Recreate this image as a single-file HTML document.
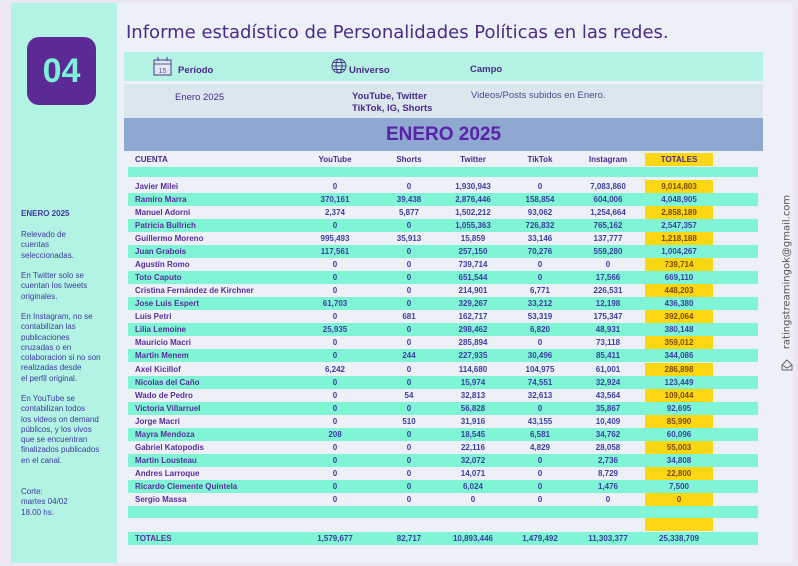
<!DOCTYPE html>
<html><head><meta charset="utf-8"><style>
*{margin:0;padding:0;box-sizing:border-box}
body{width:798px;height:566px;background:#ebe8f3;font-family:"Liberation Sans",sans-serif;position:relative;overflow:hidden}
.abs{position:absolute}
#side{left:11px;top:3px;width:106px;height:560px;background:#b3f3e4}
#card{left:117px;top:3px;width:676px;height:560px;background:#eef0f7}
#badge{left:27px;top:37px;width:69px;height:68px;background:#5b2a94;border-radius:12px;color:#7ff0d8;font-weight:bold;font-size:34px;text-align:center;line-height:68px}
#side .t{position:absolute;left:10px;font-size:8px;color:#3d3aa0;line-height:10.3px}
#title{left:126px;top:22px;font-family:"DejaVu Sans",sans-serif;font-size:18px;color:#4b2a8a;white-space:nowrap}
.band1{left:124px;top:52px;width:639px;height:29px;background:#b4f3e4}
.band2{left:124px;top:84px;width:639px;height:34px;background:#dbe6ee}
.band3{left:124px;top:118px;width:639px;height:33px;background:#8ea8d2;color:#5a22a8;font-weight:bold;font-size:19px;text-align:center;line-height:34px}
.lbl{font-size:9.5px;font-weight:bold;color:#4a2a8a}
.row{position:absolute;left:128px;width:630px;height:13px;font-size:8px;font-weight:bold;line-height:13px;color:#3a3fa0}
.row.m{background:#7ff5d6}
.row span{position:absolute;width:68px;text-align:center;top:0}
.row .n{left:7px;width:200px;text-align:left;color:#5a2d9c}
.c1{left:173px}.c2{left:247px}.c3{left:311px}.c4{left:378px}.c5{left:446px}
.row .c6{left:517px;color:#3a3fa0}
.row.y .c6{background:#fbd711;color:#7a4a10}
#hdr{top:153px;background:none}
#hdr span{color:#4a2a8a}
</style></head><body>
<div id="side" class="abs">
<div class="t" style="top:206px;font-weight:bold">ENERO 2025</div>
<div class="t" style="top:227px">Relevado de<br>cuentas<br>seleccionadas.</div>
<div class="t" style="top:268px">En Twitter solo se<br>cuentan los tweets<br>originales.</div>
<div class="t" style="top:309px">En Instagram, no se<br>contabilizan las<br>publicaciones<br>cruzadas o en<br>colaboracion si no son<br>realizadas desde<br>el perfil original.</div>
<div class="t" style="top:391px">En YouTube se<br>contabilizan todos<br>los videos on demand<br>públicos, y los vivos<br>que se encuentran<br>finalizados publicados<br>en el canal.</div>
<div class="t" style="top:484px">Corte:<br>martes 04/02<br>18.00 hs.</div>
</div>
<div id="card" class="abs"></div>
<div id="badge" class="abs">04</div>
<div id="title" class="abs">Informe estadístico de Personalidades Políticas en las redes.</div>
<div class="abs band1"></div>
<div class="abs band2"></div>
<div class="abs band3">ENERO 2025</div>
<svg class="abs" style="left:153px;top:57px" width="20" height="19" viewBox="0 0 20 19"><rect x="1" y="3" width="17" height="15" fill="#dfe8f0" stroke="#5a5a9a" stroke-width="1.2"/><line x1="1" y1="7" x2="18" y2="7" stroke="#5a5a9a"/><line x1="5" y1="0" x2="5" y2="4" stroke="#5a5a9a" stroke-width="1.3"/><line x1="14" y1="0" x2="14" y2="4" stroke="#5a5a9a" stroke-width="1.3"/><text x="9.5" y="16" font-size="7" text-anchor="middle" fill="#5a5a9a" font-family="Liberation Sans">15</text></svg>
<div class="abs lbl" style="left:178px;top:65px">Período</div>
<svg class="abs" style="left:331px;top:58px" width="16" height="16" viewBox="0 0 16 16" fill="none" stroke="#4a3a8a" stroke-width="1"><circle cx="8" cy="8" r="7"/><ellipse cx="8" cy="8" rx="3" ry="7"/><line x1="1" y1="8" x2="15" y2="8"/><line x1="2" y1="4.5" x2="14" y2="4.5"/><line x1="2" y1="11.5" x2="14" y2="11.5"/></svg>
<div class="abs lbl" style="left:349px;top:65px">Universo</div>
<div class="abs lbl" style="left:470px;top:64px">Campo</div>
<div class="abs" style="left:175px;top:92px;font-size:9.5px;color:#4a2a8a">Enero 2025</div>
<div class="abs lbl" style="left:352px;top:91px;line-height:12px">YouTube, Twitter<br>TikTok, IG, Shorts</div>
<div class="abs" style="left:471px;top:90px;font-size:9.5px;color:#4a4a8a">Videos/Posts subidos en Enero.</div>

<div class="row y" id="hdr"><span class="n">CUENTA</span><span class="c1">YouTube</span><span class="c2">Shorts</span><span class="c3">Twitter</span><span class="c4">TikTok</span><span class="c5">Instagram</span><span class="c6" style="color:#4a2a8a">TOTALES</span></div>
<div class="row m" style="top:167px;height:10px"></div>

<div class="row y" style="top:180px"><span class="n">Javier Milei</span><span class="c1">0</span><span class="c2">0</span><span class="c3">1,930,943</span><span class="c4">0</span><span class="c5">7,083,860</span><span class="c6">9,014,803</span></div>
<div class="row m" style="top:193px"><span class="n">Ramiro Marra</span><span class="c1">370,161</span><span class="c2">39,438</span><span class="c3">2,876,446</span><span class="c4">158,854</span><span class="c5">604,006</span><span class="c6">4,048,905</span></div>
<div class="row y" style="top:206px"><span class="n">Manuel Adorni</span><span class="c1">2,374</span><span class="c2">5,877</span><span class="c3">1,502,212</span><span class="c4">93,062</span><span class="c5">1,254,664</span><span class="c6">2,858,189</span></div>
<div class="row m" style="top:219px"><span class="n">Patricia Bullrich</span><span class="c1">0</span><span class="c2">0</span><span class="c3">1,055,363</span><span class="c4">726,832</span><span class="c5">765,162</span><span class="c6">2,547,357</span></div>
<div class="row y" style="top:232px"><span class="n">Guillermo Moreno</span><span class="c1">995,493</span><span class="c2">35,913</span><span class="c3">15,859</span><span class="c4">33,146</span><span class="c5">137,777</span><span class="c6">1,218,188</span></div>
<div class="row m" style="top:245px"><span class="n">Juan Grabois</span><span class="c1">117,561</span><span class="c2">0</span><span class="c3">257,150</span><span class="c4">70,276</span><span class="c5">559,280</span><span class="c6">1,004,267</span></div>
<div class="row y" style="top:258px"><span class="n">Agustín Romo</span><span class="c1">0</span><span class="c2">0</span><span class="c3">739,714</span><span class="c4">0</span><span class="c5">0</span><span class="c6">739,714</span></div>
<div class="row m" style="top:271px"><span class="n">Toto Caputo</span><span class="c1">0</span><span class="c2">0</span><span class="c3">651,544</span><span class="c4">0</span><span class="c5">17,566</span><span class="c6">669,110</span></div>
<div class="row y" style="top:284px"><span class="n">Cristina Fernández de Kirchner</span><span class="c1">0</span><span class="c2">0</span><span class="c3">214,901</span><span class="c4">6,771</span><span class="c5">226,531</span><span class="c6">448,203</span></div>
<div class="row m" style="top:297px"><span class="n">Jose Luis Espert</span><span class="c1">61,703</span><span class="c2">0</span><span class="c3">329,267</span><span class="c4">33,212</span><span class="c5">12,198</span><span class="c6">436,380</span></div>
<div class="row y" style="top:310px"><span class="n">Luis Petri</span><span class="c1">0</span><span class="c2">681</span><span class="c3">162,717</span><span class="c4">53,319</span><span class="c5">175,347</span><span class="c6">392,064</span></div>
<div class="row m" style="top:323px"><span class="n">Lilia Lemoine</span><span class="c1">25,935</span><span class="c2">0</span><span class="c3">298,462</span><span class="c4">6,820</span><span class="c5">48,931</span><span class="c6">380,148</span></div>
<div class="row y" style="top:336px"><span class="n">Mauricio Macri</span><span class="c1">0</span><span class="c2">0</span><span class="c3">285,894</span><span class="c4">0</span><span class="c5">73,118</span><span class="c6">359,012</span></div>
<div class="row m" style="top:349px"><span class="n">Martin Menem</span><span class="c1">0</span><span class="c2">244</span><span class="c3">227,935</span><span class="c4">30,496</span><span class="c5">85,411</span><span class="c6">344,086</span></div>
<div class="row y" style="top:363px"><span class="n">Axel Kicillof</span><span class="c1">6,242</span><span class="c2">0</span><span class="c3">114,680</span><span class="c4">104,975</span><span class="c5">61,001</span><span class="c6">286,898</span></div>
<div class="row m" style="top:376px"><span class="n">Nicolas del Caño</span><span class="c1">0</span><span class="c2">0</span><span class="c3">15,974</span><span class="c4">74,551</span><span class="c5">32,924</span><span class="c6">123,449</span></div>
<div class="row y" style="top:389px"><span class="n">Wado de Pedro</span><span class="c1">0</span><span class="c2">54</span><span class="c3">32,813</span><span class="c4">32,613</span><span class="c5">43,564</span><span class="c6">109,044</span></div>
<div class="row m" style="top:402px"><span class="n">Victoria Villarruel</span><span class="c1">0</span><span class="c2">0</span><span class="c3">56,828</span><span class="c4">0</span><span class="c5">35,867</span><span class="c6">92,695</span></div>
<div class="row y" style="top:415px"><span class="n">Jorge Macri</span><span class="c1">0</span><span class="c2">510</span><span class="c3">31,916</span><span class="c4">43,155</span><span class="c5">10,409</span><span class="c6">85,990</span></div>
<div class="row m" style="top:428px"><span class="n">Mayra Mendoza</span><span class="c1">208</span><span class="c2">0</span><span class="c3">18,545</span><span class="c4">6,581</span><span class="c5">34,762</span><span class="c6">60,096</span></div>
<div class="row y" style="top:441px"><span class="n">Gabriel Katopodis</span><span class="c1">0</span><span class="c2">0</span><span class="c3">22,116</span><span class="c4">4,829</span><span class="c5">28,058</span><span class="c6">55,003</span></div>
<div class="row m" style="top:454px"><span class="n">Martin Lousteau</span><span class="c1">0</span><span class="c2">0</span><span class="c3">32,072</span><span class="c4">0</span><span class="c5">2,736</span><span class="c6">34,808</span></div>
<div class="row y" style="top:467px"><span class="n">Andres Larroque</span><span class="c1">0</span><span class="c2">0</span><span class="c3">14,071</span><span class="c4">0</span><span class="c5">8,729</span><span class="c6">22,800</span></div>
<div class="row m" style="top:480px"><span class="n">Ricardo Clemente Quintela</span><span class="c1">0</span><span class="c2">0</span><span class="c3">6,024</span><span class="c4">0</span><span class="c5">1,476</span><span class="c6">7,500</span></div>
<div class="row y" style="top:493px"><span class="n">Sergio Massa</span><span class="c1">0</span><span class="c2">0</span><span class="c3">0</span><span class="c4">0</span><span class="c5">0</span><span class="c6">0</span></div>
<div class="row m" style="top:506px;height:12px"></div>
<div class="row y" style="top:518px"><span class="c6">&nbsp;</span></div>
<div class="row m" style="top:532px"><span class="n">TOTALES</span><span class="c1">1,579,677</span><span class="c2">82,717</span><span class="c3">10,893,446</span><span class="c4">1,479,492</span><span class="c5">11,303,377</span><span class="c6">25,338,709</span></div>

<div class="abs" style="left:787px;top:272px;width:0;height:0"><div style="position:absolute;transform:translate(-50%,-50%) rotate(-90deg);white-space:nowrap;font-size:10px;color:#555;font-family:'DejaVu Sans',sans-serif">ratingstreamingok@gmail.com</div></div>
<svg class="abs" style="left:781px;top:359px" width="12" height="12" viewBox="0 0 12 12" fill="none" stroke="#666" stroke-width="1"><path d="M1 6 L6 1 L11 6 L11 11 L1 11 Z"/><path d="M1 6 L6 9 L11 6"/></svg>
</body></html>
